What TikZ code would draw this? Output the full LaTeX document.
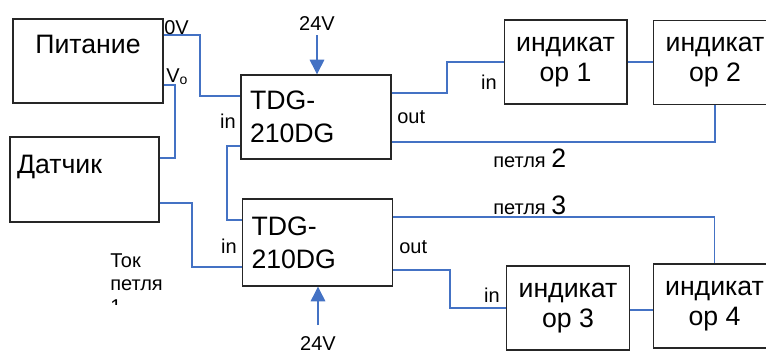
\documentclass[tikz,border=0pt]{standalone}
\usepackage{fontspec}
\setmainfont{Liberation Sans}
\usetikzlibrary{arrows.meta, positioning}
\definecolor{wireblue}{RGB}{68, 114, 196}
\definecolor{boxgray}{RGB}{38, 38, 38}

\begin{document}
\begin{tikzpicture}[
	x=0.75pt, y=-0.75pt,
	blockbox/.style={draw=boxgray, line width=1pt, inner xsep=6.75pt, inner ysep=0pt,
		minimum width=112.5pt, minimum height=63pt, text width=99pt,
		align=left, font=\fontsize{20}{25}\selectfont},
	indbox/.style={draw=boxgray, line width=1pt, inner sep=0pt,
		minimum width=92pt, minimum height=63pt,
		align=center, font=\fontsize{20}{22.5}\selectfont},
	wire/.style={wireblue, line width=0.8pt},
	arr/.style={wire, -{Triangle[length=11pt, width=11pt]}},
	lbl/.style={inner sep=0pt, font=\fontsize{15}{18}\selectfont}
	]
	\useasboundingbox (0,0) rectangle (766,354);
	\clip (0,0) rectangle (766,354);
	% blocks
	\node[blockbox, align=center, text height=25.5pt, text depth=37.5pt] (power) at (88,61) {Питание};
	\node[blockbox, minimum width=111.75pt, inner xsep=5.25pt, text width=101.25pt,
	text height=27pt, text depth=36.75pt] (sensor) at (84.5,179.5) {Датчик};
	\node[blockbox] (tdgtop) at (316,117) {TDG-\\210DG};
	\node[blockbox, minimum height=65.25pt] (tdgbot) at (317.5,242.5) {TDG-\\210DG};
	\node[indbox] (ind1) at (565.5,62) {индикат\\ор 1};
	\node[indbox] (ind2) at (715,62.5) {индикат\\ор 2};
	\node[indbox] (ind3) at (568,308) {индикат\\ор 3};
	\node[indbox] (ind4) at (714.5,306) {индикат\\ор 4};
	% supply labels
	\node[lbl, anchor=base] (v24top) at (317,30) {24V};
	\node[lbl, anchor=base] (v24bot) at (318,350) {24V};
	\draw[arr] (v24top.south |- 0,35) -- (v24top |- tdgtop.north);
	\draw[arr] (v24bot.north |- 0,325) -- (v24bot |- tdgbot.south);
	% wiring
	\draw[wire] (power.east |- 0,35) -- (200,35) |- (tdgtop.west |- 0,96);
	\draw[wire] (power.east |- 0,85) -- (175,85) |- (sensor.east |- 0,158);
	\draw[wire] (tdgtop.west |- 0,146) -- (227,146) |- (tdgbot.west |- 0,220);
	\draw[wire] (sensor.east |- 0,203) -- (192,203) |- (tdgbot.west |- 0,267);
	\draw[wire] (tdgtop.east |- 0,93) -- (447,93) |- (ind1.west |- 0,62);
	\draw[wire] (ind1.east |- 0,62) -- (ind2.west |- 0,62);
	\draw[wire] (tdgtop.east |- 0,142) -| (ind2.south);
	\draw[wire] (tdgbot.east |- 0,217) -| (ind4.north);
	\draw[wire] (tdgbot.east |- 0,270) -- (450,270) |- (ind3.west |- 0,308);
	\draw[wire] (ind3.east |- 0,310) -- (ind4.west |- 0,310);
	% labels
	\node[lbl, anchor=base west] (zerov) at (164,34) {0V};
	\node[lbl, anchor=base west] (vout) at (166,82) {V\textsubscript{o}};
	\node[lbl, anchor=base east] (intop) at (236,128) {in};
	\node[lbl, anchor=base east] (inbot) at (237,253) {in};
	\node[lbl, anchor=base west] (outtop) at (397,123) {out};
	\node[lbl, anchor=base west] (outbot) at (399,253) {out};
	\node[lbl, anchor=base east] (inind1) at (497,89) {in};
	\node[lbl, anchor=base east] (inind3) at (500,302) {in};
	\node[lbl, anchor=base west] (loop2) at (493,167) {петля {\fontsize{20}{20}\selectfont 2}};
	\node[lbl, anchor=base west] (loop3) at (493,214) {петля {\fontsize{20}{20}\selectfont 3}};
	\begin{scope}
		\clip (100,240) rectangle (200,304);
		\node[lbl, anchor=north west, align=left, font=\fontsize{15}{17.25}\selectfont]
		(loop1) at (110,253) {Ток\\петля\\1};
	\end{scope}
\end{tikzpicture}
\end{document}
